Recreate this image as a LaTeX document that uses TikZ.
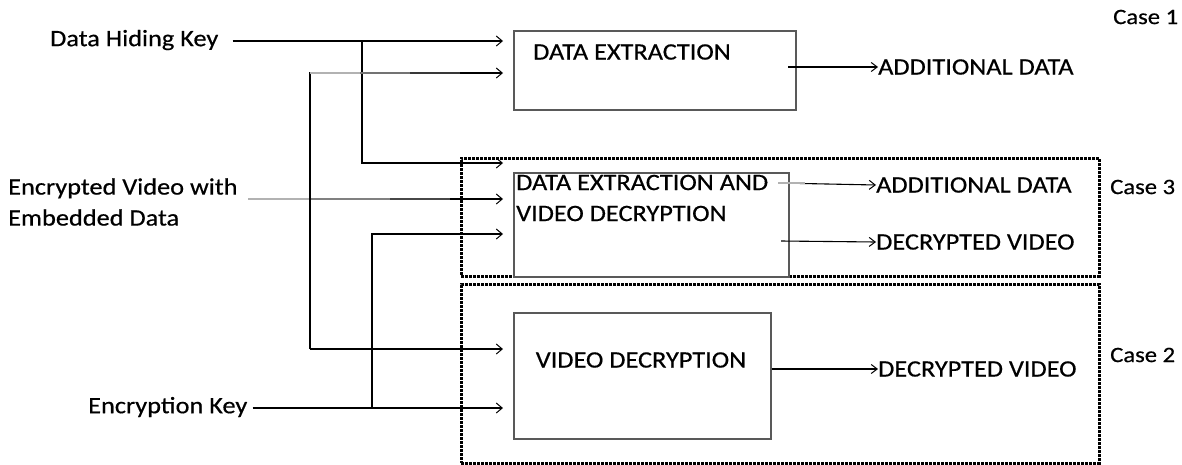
\documentclass[tikz,border=0pt]{standalone}
\usepackage{fontspec}
\setmainfont{Carlito}[FakeStretch=1.12,FakeBold=0.5]
\usetikzlibrary{arrows.meta}
\begin{document}
\begin{tikzpicture}[x=1pt,y=-1pt,
  lbl/.style={font=\fontsize{23.5}{31}\selectfont, inner sep=0pt, align=left},
  caselbl/.style={font=\fontsize{22}{26}\selectfont, inner sep=0pt},
  procbox/.style={draw=black!65, line width=1.5pt, fill=white, inner sep=0pt},
  keyline/.style={line width=1.9pt},
  arr/.style={line width=1.9pt, -{Straight Barb[length=6pt,width=10pt,line width=1pt]}},
  outarr/.style={line width=1.1pt, -{Straight Barb[length=6pt,width=9pt,line width=1pt]}},
  casebox/.style={draw, line width=2.6pt, dash pattern=on 3pt off 1pt},
]
\useasboundingbox (0,0) rectangle (1182,464);

% case frames
\node[casebox, minimum width=638pt, minimum height=118pt, anchor=north west] (c3) at (460,157) {};
\node[casebox, minimum width=638pt, minimum height=179pt, anchor=north west] (c2) at (460,283) {};

% process boxes
\node[procbox, minimum width=282pt, minimum height=79pt, anchor=north west] (b1) at (513,30) {};
\node[procbox, minimum width=275pt, minimum height=104pt, anchor=north west] (b3) at (513,172) {};
\node[procbox, minimum width=257pt, minimum height=126pt, anchor=north west] (b2) at (513,312) {};

\node[lbl, anchor=west] (t1) at (533,52) {DATA EXTRACTION};
\node[lbl, anchor=west] (t3) at (516,198) {DATA EXTRACTION AND\\VIDEO DECRYPTION};
\node[lbl] (t2) at (641,360) {VIDEO DECRYPTION};

% inputs
\node[lbl, anchor=west] (dhk) at (50,40) {Data Hiding Key};
\node[lbl, anchor=west] (evd) at (8,202) {Encrypted Video with\\Embedded Data};
\node[lbl, anchor=west] (ek) at (88,407) {Encryption Key};

\coordinate (i1a) at (503,41);
\coordinate (i1b) at (503,73);
\coordinate (i3a) at (503,163);
\coordinate (i3b) at (503,199);
\coordinate (i3c) at (503,234);
\coordinate (i2a) at (503,349);
\coordinate (i2b) at (503,408);

\coordinate (jd) at (362,41);
\coordinate (je1) at (310,73);
\coordinate (je2) at (310,349);
\coordinate (jk) at (372,408);

\draw[arr] ([xshift=14pt]dhk.east |- i1a) -- (i1a);
\draw[arr] (jd) |- (i3a);
\draw[arr] (248,199) -- (i3b);
\draw[keyline, black!30] (248,199) -- (310,199);
\draw[keyline, black!50] (310,199) -- (390,199);
\draw[keyline, black!72] (390,199) -- (450,199);
\draw[arr] (je2) -- (je1) -- (i1b);
\draw[keyline, black!30] (je1) -- (360,73);
\draw[keyline, black!55] (360,73) -- (410,73);
\draw[keyline, black!78] (410,73) -- (460,73);
\draw[arr] (je2) -- (i2a);
\draw[arr] ([xshift=5pt]ek.east |- i2b) -- (i2b);
\draw[arr] (jk) |- (i3c);

% outputs
\node[lbl, anchor=west] (o1) at (878,67) {ADDITIONAL DATA};
\node[lbl, anchor=west] (o3a) at (876,185) {ADDITIONAL DATA};
\node[lbl, anchor=west] (o3b) at (876,242) {DECRYPTED VIDEO};
\node[lbl, anchor=west] (o2) at (878,369) {DECRYPTED VIDEO};

\draw[outarr] (788,67) -- (o1.west);
\draw[outarr] (778,183) -- (o3a.west);
\draw[black!30, line width=1.1pt] (778,183) -- (805,183);
\draw[outarr] (781,241) -- (o3b.west);
\draw[outarr] (b2.east |- o2.west) -- (o2.west);

% case labels
\node[caselbl, anchor=west] (k1) at (1113,17) {Case 1};
\node[caselbl, anchor=west] (k3) at (1110,187) {Case 3};
\node[caselbl, anchor=west] (k2) at (1110,355) {Case 2};
\end{tikzpicture}
\end{document}
